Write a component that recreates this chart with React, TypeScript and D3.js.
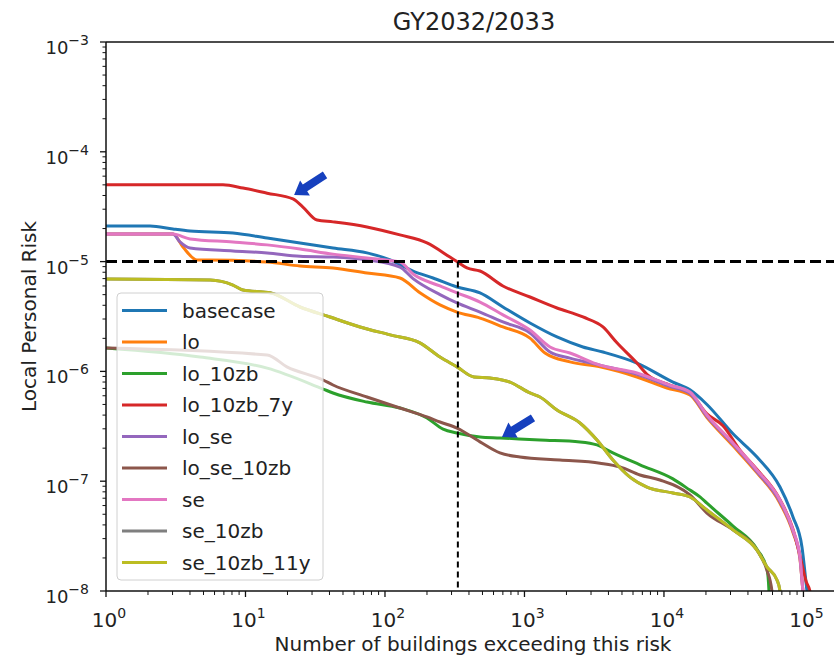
import React from "react";
import * as d3 from "d3";

type Pt = [number, number];

const seriesNames = ["basecase", "lo", "lo_10zb", "lo_10zb_7y", "lo_se", "lo_se_10zb", "se", "se_10zb", "se_10zb_11y"];
const seriesColors = ["#1f77b4", "#ff7f0e", "#2ca02c", "#d62728", "#9467bd", "#8c564b", "#e377c2", "#7f7f7f", "#bcbd22"];

const basecase: Pt[] = [
  [1, 2.11e-5], [2.07, 2.11e-5], [3.02, 1.98e-5], [4.0, 1.9e-5], [8.13, 1.82e-5], [14.3, 1.64e-5],
  [24.6, 1.48e-5], [42.4, 1.33e-5], [74.3, 1.2e-5], [109, 1.035e-5], [159, 8.2e-6], [221, 7.09e-6],
  [328, 5.87e-6], [480, 5.18e-6], [701, 3.86e-6], [1095, 2.76e-6], [1710, 2.06e-6], [2626, 1.67e-6],
  [3654, 1.5e-6], [6400, 1.19e-6], [11600, 8.0e-7], [15360, 6.8e-7], [20330, 5.0e-7], [31260, 2.7e-7],
  [46440, 1.66e-7], [67880, 8.85e-8], [84140, 4.72e-8], [97560, 2.52e-8], [105900, 1.0e-8], [108000, 8e-9],
];
const lo: Pt[] = [
  [1, 1.78e-5], [3.02, 1.78e-5], [3.56, 1.36e-5], [4.49, 1.035e-5], [5.57, 1.035e-5], [14.3, 9.91e-6],
  [24.6, 9.12e-6], [42.4, 8.75e-6], [74.3, 7.87e-6], [128, 7.09e-6], [178, 5.2e-6], [248, 4.03e-6],
  [328, 3.47e-6], [480, 3.06e-6], [701, 2.54e-6], [1095, 2.01e-6], [1403, 1.47e-6], [2118, 1.22e-6],
  [3477, 1.1e-6], [6400, 8.89e-7], [10500, 7.06e-7], [15360, 6.1e-7], [20330, 3.8e-7], [31260, 2.1e-7],
  [46440, 1.19e-7], [67880, 6.3e-8], [84140, 3.4e-8], [94420, 1.95e-8], [99150, 1e-8], [101000, 8e-9],
];
const lo_10zb: Pt[] = [
  [1, 1.63e-6], [4.72, 1.35e-6], [14.3, 1.07e-6], [36.0, 6.91e-7], [42.4, 6.36e-7], [74.3, 5.26e-7],
  [128, 4.64e-7], [200, 3.76e-7], [261, 2.98e-7], [328, 2.75e-7], [480, 2.53e-7], [667, 2.48e-7],
  [1291, 2.37e-7], [2500, 2.28e-7], [3310, 2.14e-7], [4307, 1.81e-7], [6730, 1.41e-7], [11600, 1.05e-7],
  [15360, 8.3e-8], [18120, 7.2e-8], [20330, 6.3e-8], [31260, 3.9e-8], [46440, 2.4e-8], [54700, 1.6e-8],
  [56600, 1e-8], [57000, 8e-9],
];
const lo_10zb_7y: Pt[] = [
  [1, 5.0e-5], [6.9, 5.0e-5], [9.6, 4.68e-5], [14.3, 4.2e-5], [21.9, 3.72e-5], [25.8, 3.14e-5],
  [32.6, 2.39e-5], [42.4, 2.3e-5], [74.3, 2.07e-5], [128, 1.75e-5], [200, 1.48e-5], [292, 1.1e-5],
  [328, 1.0e-5], [387, 8.75e-6], [480, 8.21e-6], [701, 6.0e-6], [1095, 4.76e-6], [1710, 3.78e-6],
  [2626, 3.13e-6], [3654, 2.54e-6], [4604, 1.82e-6], [6400, 1.19e-6], [7550, 9.4e-7], [11000, 7.5e-7],
  [15360, 6.4e-7], [20330, 4.1e-7], [26480, 3.2e-7], [35070, 1.92e-7], [46440, 1.28e-7], [67880, 6.8e-8],
  [84140, 3.65e-8], [94420, 2.1e-8], [105000, 1.2e-8], [111300, 1e-8], [113000, 8e-9],
];
const lo_se: Pt[] = [
  [1, 1.78e-5], [3.02, 1.78e-5], [3.39, 1.51e-5], [4.0, 1.33e-5], [8.13, 1.25e-5], [14.3, 1.2e-5],
  [24.6, 1.12e-5], [42.4, 1.1e-5], [74.3, 1.035e-5], [128, 8.9e-6], [159, 7.0e-6], [248, 5.0e-6],
  [328, 4.2e-6], [480, 3.47e-6], [701, 2.82e-6], [1095, 2.24e-6], [1524, 1.5e-6], [2118, 1.32e-6],
  [3477, 1.14e-6], [6400, 9.4e-7], [11000, 7.3e-7], [15360, 6.3e-7], [20330, 3.9e-7], [31260, 2.17e-7],
  [46440, 1.22e-7], [67880, 6.5e-8], [84140, 3.5e-8], [94420, 2.0e-8], [99150, 1e-8], [101000, 8e-9],
];
const lo_se_10zb: Pt[] = [
  [1, 1.63e-6], [14.3, 1.41e-6], [19.8, 1.1e-6], [36.0, 8.35e-7], [42.4, 7.52e-7], [74.3, 5.85e-7],
  [128, 4.64e-7], [200, 3.85e-7], [248, 3.46e-7], [328, 3.05e-7], [480, 2.28e-7], [667, 1.81e-7],
  [929, 1.66e-7], [1796, 1.56e-7], [3477, 1.46e-7], [4840, 1.35e-7], [6730, 1.14e-7], [9360, 1.025e-7],
  [15360, 7.5e-8], [20330, 5.13e-8], [31260, 3.6e-8], [46440, 2.36e-8], [54700, 1.55e-8], [59430, 1e-8],
  [60000, 8e-9],
];
const se: Pt[] = [
  [1, 1.78e-5], [3.02, 1.78e-5], [4.0, 1.61e-5], [8.13, 1.51e-5], [14.3, 1.42e-5], [24.6, 1.3e-5],
  [42.4, 1.17e-5], [74.3, 1.08e-5], [128, 9.9e-6], [159, 7.7e-6], [248, 6.0e-6], [328, 5.2e-6],
  [480, 4.28e-6], [701, 3.27e-6], [1095, 2.38e-6], [1524, 1.67e-6], [2118, 1.47e-6], [3477, 1.14e-6],
  [6400, 9.66e-7], [11000, 7.5e-7], [15360, 6.49e-7], [20330, 4.01e-7], [31260, 2.23e-7], [46440, 1.26e-7],
  [67880, 6.74e-8], [84140, 3.6e-8], [94420, 2.04e-8], [99150, 1e-8], [101000, 8e-9],
];
const se_10zb: Pt[] = [
  [1, 6.95e-6], [5.57, 6.8e-6], [8.13, 6.12e-6], [9.6, 5.51e-6], [13.3, 5.28e-6], [15.0, 5.2e-6],
  [24.6, 3.86e-6], [40.3, 3.13e-6], [66.2, 2.54e-6], [109, 2.15e-6], [178, 1.82e-6], [248, 1.35e-6],
  [328, 1.1e-6], [435, 8.89e-7], [566, 8.7e-7], [787, 8.0e-7], [1095, 6.36e-7], [1291, 5.85e-7],
  [1710, 4.45e-7], [2500, 3.39e-7], [3310, 2.37e-7], [4307, 1.56e-7], [5705, 1.09e-7], [7550, 8.85e-8],
  [11600, 7.81e-8], [15360, 7.18e-8], [20330, 5.47e-8], [31260, 3.6e-8], [46440, 2.36e-8], [54700, 1.66e-8],
  [64570, 1.26e-8], [67880, 1e-8], [69000, 8e-9],
];
const se_10zb_11y: Pt[] = [
  [1, 6.95e-6], [5.57, 6.8e-6], [8.13, 6.12e-6], [9.6, 5.51e-6], [13.3, 5.28e-6], [15.0, 5.2e-6],
  [24.6, 3.86e-6], [40.3, 3.13e-6], [66.2, 2.54e-6], [109, 2.15e-6], [178, 1.82e-6], [248, 1.35e-6],
  [328, 1.1e-6], [435, 8.89e-7], [566, 8.7e-7], [787, 8.0e-7], [1095, 6.36e-7], [1291, 5.85e-7],
  [1710, 4.45e-7], [2500, 3.39e-7], [3310, 2.37e-7], [4307, 1.56e-7], [5705, 1.09e-7], [7550, 8.85e-8],
  [11600, 7.81e-8], [15360, 7.18e-8], [20330, 5.47e-8], [31260, 3.6e-8], [46440, 2.36e-8], [54700, 1.66e-8],
  [64570, 1.26e-8], [67880, 1e-8], [69000, 8e-9],
];

const seriesData: Pt[][] = [basecase, lo, lo_10zb, lo_10zb_7y, lo_se, lo_se_10zb, se, se_10zb, se_10zb_11y];

const xTickExps = [0, 1, 2, 3, 4, 5];
const yTickExps = [-8, -7, -6, -5, -4, -3];
const thresholdRisk = 1e-5;
const thresholdCount = 333;
// annotation arrows: [tipCount, tipRisk, tailCount, tailRisk]
const arrows: [number, number, number, number][] = [
  [22.3, 4.04e-5, 37.2, 6.15e-5],
  [690, 2.53e-7, 1151, 3.77e-7],
];

const titleText = "GY2032/2033";
const xLabel = "Number of buildings exceeding this risk";
const yLabel = "Local Personal Risk";

const W = 834, H = 666;
const L = 106, R = 834, T = 42, B = 591;
const FONT = "DejaVu Sans, sans-serif";
const SUP: Record<string, string> = { "-": "\u2212" };

export default function App() {
  const x = d3.scaleLog().domain([1, Math.pow(10, 5.219)]).range([L, R]);
  const y = d3.scaleLog().domain([1e-8, 1e-3]).range([B, T]);
  const line = d3.line<Pt>().x((d) => x(d[0])).y((d) => y(d[1])).curve(d3.curveMonotoneX);

  const minorX: number[] = [];
  for (let e = 0; e <= 5; e++) for (let m = 2; m <= 9; m++) {
    const v = m * Math.pow(10, e);
    if (x(v) <= R) minorX.push(v);
  }
  const minorY: number[] = [];
  for (let e = -8; e < -3; e++) for (let m = 2; m <= 9; m++) minorY.push(m * Math.pow(10, e));

  const arrowPath = (a: [number, number, number, number]) => {
    const tx = x(a[0]), ty = y(a[1]), sx = x(a[2]), sy = y(a[3]);
    const dx = tx - sx, dy = ty - sy;
    const len = Math.hypot(dx, dy);
    const ux = dx / len, uy = dy / len;
    const px = -uy, py = ux;
    const hl = 13, hw = 9, sw = 4;
    const bx = tx - ux * hl, by = ty - uy * hl;
    const pts = [
      [sx + px * sw, sy + py * sw],
      [bx + px * sw, by + py * sw],
      [bx + px * hw, by + py * hw],
      [tx, ty],
      [bx - px * hw, by - py * hw],
      [bx - px * sw, by - py * sw],
      [sx - px * sw, sy - py * sw],
    ];
    return "M" + pts.map((p) => p[0].toFixed(1) + "," + p[1].toFixed(1)).join("L") + "Z";
  };

  const legX = 117, legY = 293, legW = 206, legH = 287;
  const rowY0 = 310.5, rowStep = 31.5;

  return (
    <div style={{ position: "absolute", left: 0, top: 0 }}>
      <svg width={W} height={H} style={{ display: "block", background: "#fff" }} fontFamily={FONT}>
        <defs>
          <clipPath id="plotClip">
            <rect x={L} y={T} width={R - L + 10} height={B - T} />
          </clipPath>
        </defs>
        <rect x={0} y={0} width={W} height={H} fill="#fff" />

        <g clipPath="url(#plotClip)">
          {seriesData.map((d, i) => (
            <path key={seriesNames[i]} d={line(d) || ""} fill="none" stroke={seriesColors[i]}
              strokeWidth={3} strokeLinejoin="round" strokeLinecap="butt" />
          ))}
          <line x1={L} x2={R + 10} y1={y(thresholdRisk)} y2={y(thresholdRisk)} stroke="#000"
            strokeWidth={3} strokeDasharray="11,5" />
          <line x1={x(thresholdCount)} x2={x(thresholdCount)} y1={y(thresholdRisk)} y2={B} stroke="#000"
            strokeWidth={2} strokeDasharray="6,4" />
        </g>

        {arrows.map((a, i) => (
          <path key={"arrow" + i} d={arrowPath(a)} fill="#1640be" />
        ))}

        {/* spines */}
        <line x1={L} x2={R + 5} y1={T} y2={T} stroke="#111" strokeWidth={1.5} />
        <line x1={L} x2={R + 5} y1={B} y2={B} stroke="#111" strokeWidth={1.5} />
        <line x1={L} x2={L} y1={T} y2={B} stroke="#111" strokeWidth={1.5} />

        {/* x ticks */}
        {xTickExps.map((e) => {
          const px = x(Math.pow(10, e));
          return (
            <g key={"xt" + e}>
              <line x1={px} x2={px} y1={B} y2={B + 6} stroke="#111" strokeWidth={1.3} />
              <text x={px + 3} y={627} fontSize={20} textAnchor="middle" fill="#222">
                10<tspan dy={-9} fontSize={14}>{String(e)}</tspan>
              </text>
            </g>
          );
        })}
        {minorX.map((v, i) => (
          <line key={"xm" + i} x1={x(v)} x2={x(v)} y1={B} y2={B + 4} stroke="#111" strokeWidth={1} />
        ))}

        {/* y ticks */}
        {yTickExps.map((e) => {
          const py = y(Math.pow(10, e));
          const exp = String(e).split("").map((c) => SUP[c] || c).join("");
          return (
            <g key={"yt" + e}>
              <line x1={L - 6} x2={L} y1={py} y2={py} stroke="#111" strokeWidth={1.3} />
              <text x={89} y={py + 12} fontSize={18} textAnchor="end" fill="#222">
                10<tspan dy={-9} fontSize={14}>{exp}</tspan>
              </text>
            </g>
          );
        })}
        {minorY.map((v, i) => (
          <line key={"ym" + i} x1={L - 3.5} x2={L} y1={y(v)} y2={y(v)} stroke="#111" strokeWidth={1} />
        ))}

        {/* legend */}
        <rect x={legX} y={legY} width={legW} height={legH} rx={4} ry={4} fill="#fff" fillOpacity={0.8}
          stroke="#d0d0d0" strokeWidth={1} />
        {seriesNames.map((n, i) => {
          const ly = rowY0 + i * rowStep;
          return (
            <g key={"leg" + n}>
              <line x1={122} x2={167} y1={ly} y2={ly} stroke={seriesColors[i]} strokeWidth={3} />
              <text x={182} y={ly + 7} fontSize={20} fill="#222">{n}</text>
            </g>
          );
        })}

        {/* titles */}
        <text x={474} y={30} fontSize={24} textAnchor="middle" fill="#222">{titleText}</text>
        <text x={473} y={651} fontSize={20} textAnchor="middle" fill="#222">{xLabel}</text>
        <text transform={`translate(36,${(T + B) / 2}) rotate(-90)`} fontSize={20} textAnchor="middle" fill="#222">
          {yLabel}
        </text>
      </svg>
    </div>
  );
}
